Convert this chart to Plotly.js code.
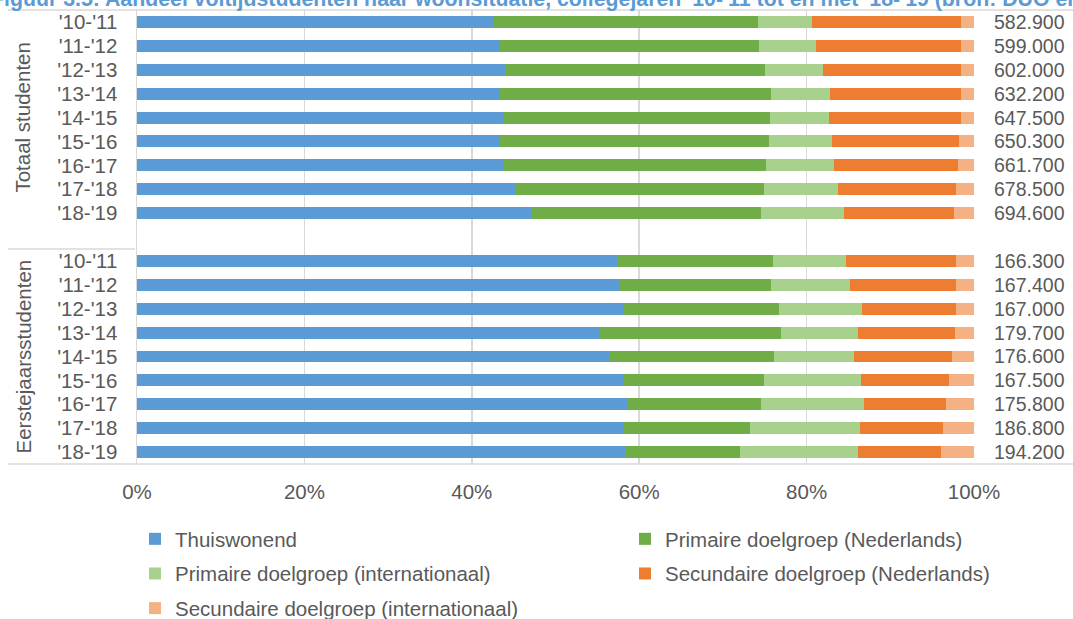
<!DOCTYPE html>
<html>
<head>
<meta charset="utf-8">
<script src="https://cdn.plot.ly/plotly-3.0.1.min.js"></script>
<style>html,body{margin:0;padding:0;background:#fff;}#chart{width:1073px;height:619px;}</style>
</head>
<body>
<div id="chart"></div>
<script>
// ---- data ----
const years = ["'10-'11","'11-'12","'12-'13","'13-'14","'14-'15","'15-'16","'16-'17","'17-'18","'18-'19"];
const groups = ["Totaal studenten", "Eerstejaarsstudenten"];
const seriesNames = ["Thuiswonend","Primaire doelgroep (Nederlands)","Primaire doelgroep (internationaal)","Secundaire doelgroep (Nederlands)","Secundaire doelgroep (internationaal)"];
const seriesColors = ["#5B9BD5","#70AD47","#A9D18E","#ED7D31","#F4B183"];

// Totaal studenten (%)
const totThuis  = [42.7,43.4,44.0,43.4,43.7,43.4,43.7,45.2,47.1];
const totPrimNL = [31.5,30.9,31.0,32.3,31.9,32.1,31.4,29.7,27.5];
const totPrimInt= [6.4,6.8,7.0,7.1,7.1,7.5,8.2,8.8,9.9];
const totSecNL  = [17.9,17.4,16.5,15.6,15.7,15.2,14.8,14.1,13.1];
const totSecInt = [1.5,1.5,1.5,1.6,1.6,1.8,1.9,2.2,2.4];
const totAantal = ["582.900","599.000","602.000","632.200","647.500","650.300","661.700","678.500","694.600"];

// Eerstejaarsstudenten (%)
const ejThuis  = [57.5,57.6,58.1,55.2,56.5,58.1,58.6,58.2,58.4];
const ejPrimNL = [18.5,18.1,18.6,21.8,19.6,16.8,15.9,15.0,13.7];
const ejPrimInt= [8.7,9.5,9.9,9.2,9.6,11.6,12.4,13.2,14.1];
const ejSecNL  = [13.2,12.7,11.3,11.5,11.7,10.5,9.7,9.9,9.8];
const ejSecInt = [2.1,2.1,2.1,2.3,2.6,3.0,3.4,3.7,4.0];
const ejAantal = ["166.300","167.400","167.000","179.700","176.600","167.500","175.800","186.800","194.200"];

const xTicks = [0,20,40,60,80,100];
const titleText = "Figuur 3.5: Aandeel voltijdstudenten naar woonsituatie, collegejaren '10-'11 tot en met '18-'19 (bron: DUO en Kences)";

// ---- build ----
const totKeys = years.map(y => "T " + y);
const ejKeys  = years.map(y => "E " + y);
const gapKey = "gap";
const catOrder = totKeys.concat([gapKey], ejKeys);
const catText  = years.concat([""], years);

const totSeries = [totThuis, totPrimNL, totPrimInt, totSecNL, totSecInt];
const ejSeries  = [ejThuis, ejPrimNL, ejPrimInt, ejSecNL, ejSecInt];

const FONT = "Liberation Sans, Arial, sans-serif";
const TXT = "#595959";

const traces = seriesNames.map((name, i) => ({
  type: "bar",
  orientation: "h",
  name: name,
  y: totKeys.concat(ejKeys),
  x: totSeries[i].concat(ejSeries[i]),
  marker: {color: seriesColors[i]},
  legend: (i % 2 === 0) ? "legend" : "legend2",
  legendgroup: "g" + i,
  hoverinfo: "x+name"
}));

// plot geometry (pixels)
const W = 1073, H = 619, L = 137, R = 99, T = 10, B = 155;
const pw = W - L - R, ph = H - T - B;
const px = v => (v - L) / pw;          // pixel x -> paper
const py = v => (H - B - v) / ph;      // pixel y -> paper

const annotations = [];
// total counts on right
totKeys.forEach((k, i) => annotations.push({xref: "paper", yref: "y", x: px(1067), y: k, xanchor: "right", yanchor: "middle", text: totAantal[i], showarrow: false, font: {family: FONT, size: 19.5, color: TXT}}));
ejKeys.forEach((k, i) => annotations.push({xref: "paper", yref: "y", x: px(1067), y: k, xanchor: "right", yanchor: "middle", text: ejAantal[i], showarrow: false, font: {family: FONT, size: 19.5, color: TXT}}));
// group labels
const nSlots = catOrder.length;
annotations.push({xref: "paper", yref: "paper", x: px(23), y: 1 - (years.length / 2) / nSlots, text: groups[0], textangle: -90, showarrow: false, xanchor: "center", yanchor: "middle", font: {family: FONT, size: 20.5, color: TXT}});
annotations.push({xref: "paper", yref: "paper", x: px(23), y: (years.length / 2) / nSlots, text: groups[1], textangle: -90, showarrow: false, xanchor: "center", yanchor: "middle", font: {family: FONT, size: 20.5, color: TXT}});
// title (cut off at the top edge, as in the reference)
annotations.push({xref: "paper", yref: "paper", x: px(-11), y: py(13), xanchor: "left", yanchor: "bottom", text: "<b>" + titleText + "</b>", showarrow: false, font: {family: FONT, size: 21.3, color: "#5B9BD5"}});

const lineStyle = {color: "#D9D9D9", width: 1.5};
const shapes = [
  {type: "line", xref: "paper", yref: "paper", x0: px(8), x1: px(1073), y0: 1, y1: 1, line: lineStyle},
  {type: "line", xref: "paper", yref: "paper", x0: px(8), x1: px(1073), y0: 0, y1: 0, line: lineStyle},
  {type: "line", xref: "paper", yref: "paper", x0: px(8), x1: px(135), y0: years.length / nSlots, y1: years.length / nSlots, line: lineStyle}
];

const legendCommon = {orientation: "v", xanchor: "left", yanchor: "top", traceorder: "grouped", tracegroupgap: 5, font: {family: FONT, size: 20.5, color: TXT}, bgcolor: "rgba(0,0,0,0)", itemclick: false, itemdoubleclick: false};

const layout = {
  width: W, height: H,
  margin: {l: L, r: R, t: T, b: B, pad: 0, autoexpand: false},
  paper_bgcolor: "#fff", plot_bgcolor: "#fff",
  barmode: "stack",
  bargap: 0.5,
  font: {family: FONT, size: 20.5, color: TXT},
  xaxis: {
    range: [0, 100], tickmode: "array", tickvals: xTicks, ticktext: xTicks.map(v => v + "%"),
    showgrid: true, gridcolor: "#D9D9D9", gridwidth: 1.5, zeroline: false, showline: false,
    ticks: "", ticklabelstandoff: 13, tickfont: {family: FONT, size: 20.5, color: TXT}, fixedrange: true, automargin: false
  },
  yaxis: {
    type: "category", categoryorder: "array", categoryarray: catOrder,
    range: [nSlots - 0.5, -0.5],
    tickmode: "array", tickvals: catOrder, ticktext: catText,
    showgrid: false, zeroline: false, showline: true, linecolor: "#D9D9D9", linewidth: 1.5,
    ticks: "", ticklabelstandoff: 14, tickfont: {family: FONT, size: 20.5, color: TXT}, fixedrange: true, automargin: false
  },
  legend: Object.assign({x: px(135), y: py(519)}, legendCommon),
  legend2: Object.assign({x: px(625), y: py(519)}, legendCommon),
  annotations: annotations,
  shapes: shapes,
  showlegend: true
};

Plotly.newPlot("chart", traces, layout, {displayModeBar: false, staticPlot: true});
</script>
</body>
</html>
